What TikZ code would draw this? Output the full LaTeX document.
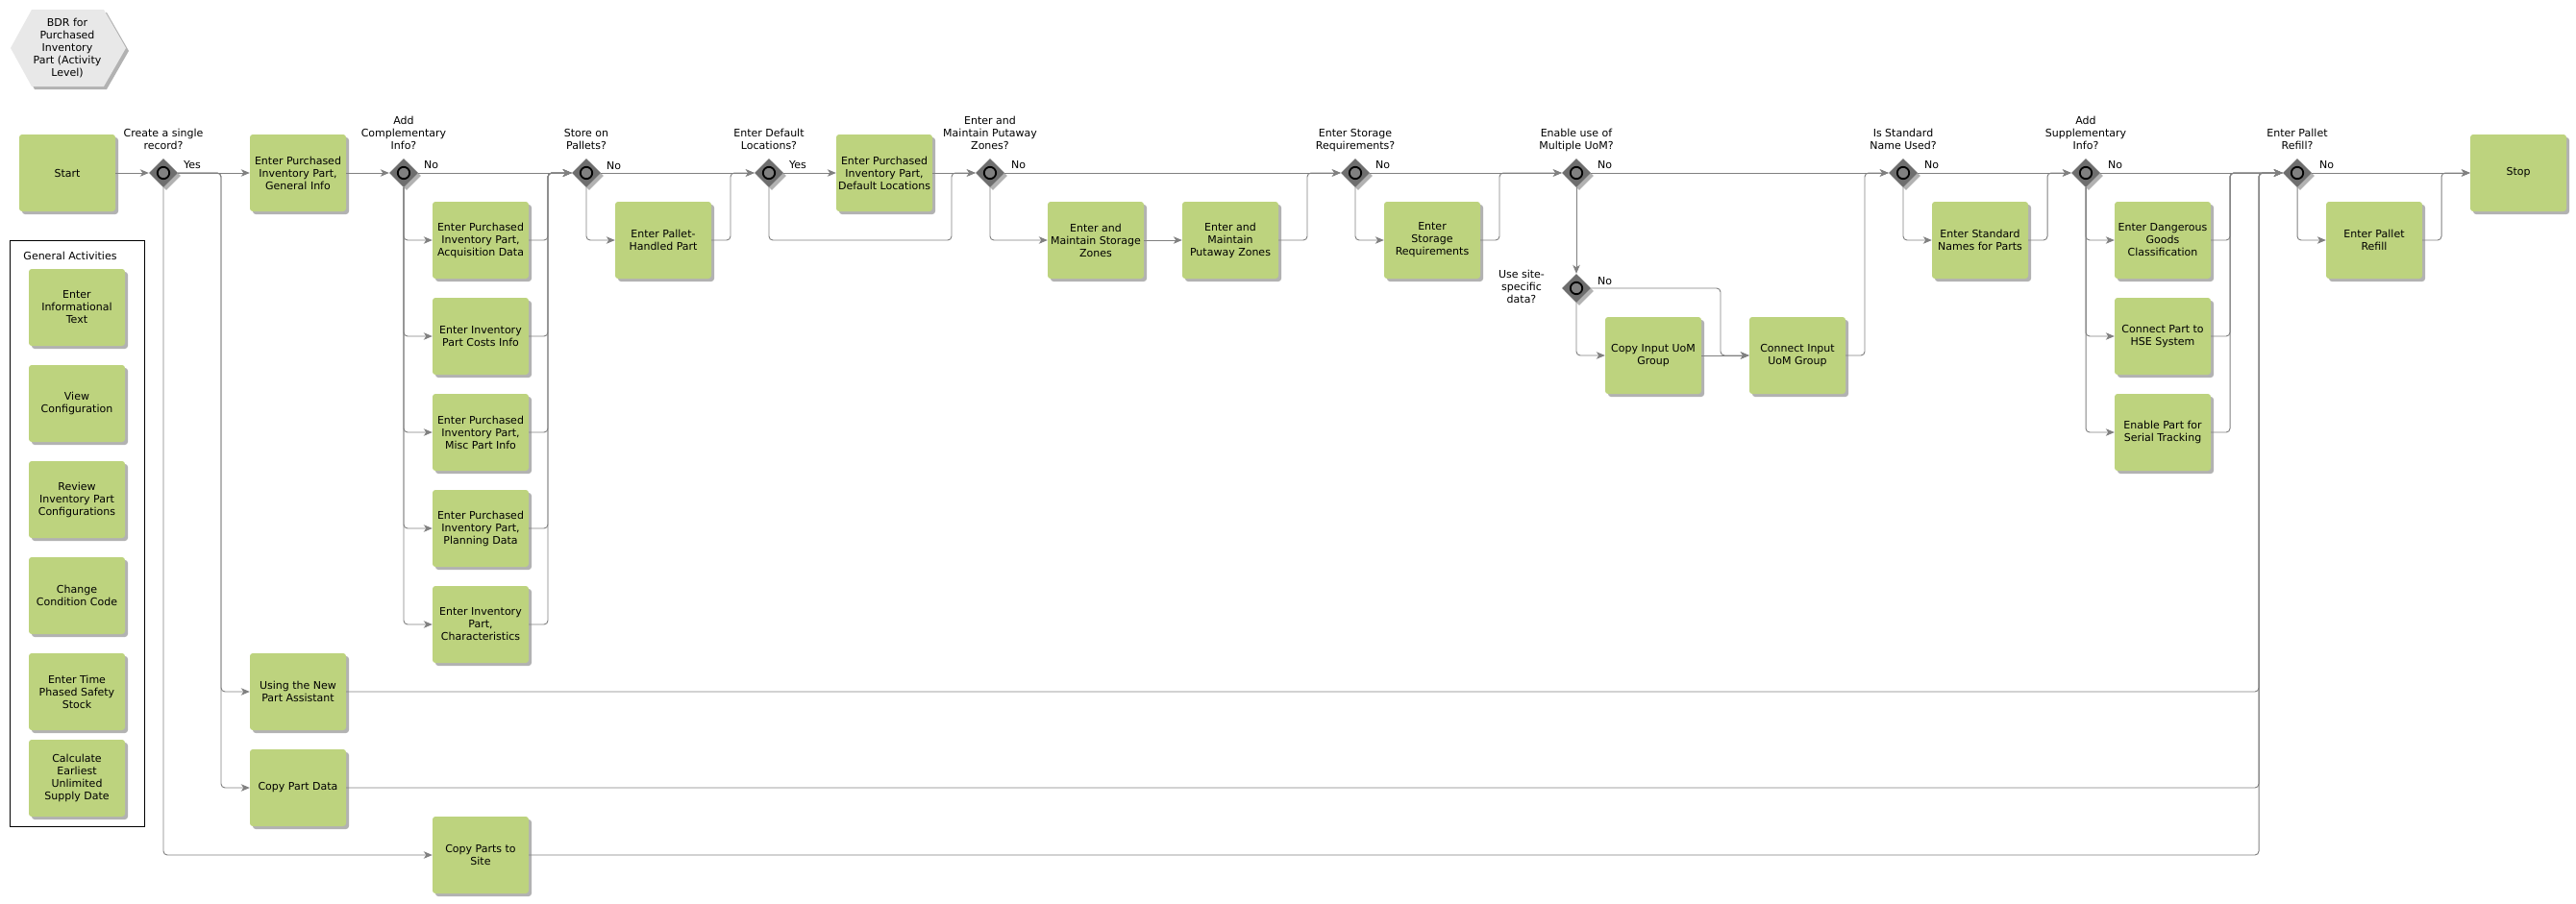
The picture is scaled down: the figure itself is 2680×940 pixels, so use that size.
\documentclass[tikz,border=0pt]{standalone}
\usepackage{fontspec}
\setmainfont{DejaVu Sans}
\usetikzlibrary{shapes.geometric,shadows,arrows.meta}
\definecolor{boxgreen}{HTML}{BDD37E}
\definecolor{flowgray}{HTML}{808080}
\definecolor{gwgray}{HTML}{6E6E6E}
\definecolor{hexgray}{HTML}{E8E8E8}
\newcommand{\dgfont}{\fontsize{11}{13}\selectfont}
\tikzset{
  softshadow/.style={drop shadow={shadow xshift=3pt, shadow yshift=-3pt, opacity=0.3, fill=black}},
  act/.style={rectangle, rounded corners=3pt, fill=boxgreen, minimum width=100pt, minimum height=80pt, inner sep=0pt, align=center, font=\dgfont, softshadow},
  gw/.style={diamond, fill=gwgray, minimum width=30pt, minimum height=30pt, inner sep=0pt, softshadow},
  gwring/.style={draw=black, fill=flowgray, line width=1.8pt},
  flow/.style={draw=flowgray, line width=0.95pt, rounded corners=4pt, -{Stealth[length=9pt,width=7.5pt,inset=2.5pt]}},
  qlabel/.style={align=center, anchor=south, inner sep=0pt, font=\dgfont, execute at end node=\strut},
  blabel/.style={anchor=base west, inner sep=0pt, font=\dgfont},
  txt/.style={align=center, inner sep=0pt, font=\dgfont},
}
\begin{document}
\begin{tikzpicture}[x=1pt,y=-1pt]
\useasboundingbox (0,0) rectangle (2680,940);
% title hexagon
\path[fill=hexgray, softshadow] (11,50) -- (33,10) -- (108,10) -- (131,50) -- (108,90) -- (33,90) -- cycle;
\node[txt] (title) at (70,50) {BDR for\\Purchased\\Inventory\\Part (Activity\\Level)};
% general activities
\node[draw=black, line width=1pt, minimum width=140pt, minimum height=610pt, inner sep=0pt] (ga) at (80,555) {};
\node[txt] (gatitle) at (73,266) {General Activities};
\node[act] (g1) at (80,320) {Enter\\Informational\\Text};
\node[act] (g2) at (80,420) {View\\Configuration};
\node[act] (g3) at (80,520) {Review\\Inventory Part\\Configurations};
\node[act] (g4) at (80,620) {Change\\Condition Code};
\node[act] (g5) at (80,720) {Enter Time\\Phased Safety\\Stock};
\node[act] (g6) at (80,810) {Calculate\\Earliest\\Unlimited\\Supply Date};
% main nodes
\node[act] (start) at (70,180) {Start};
\node[gw] (d1) at (170,180) {};
\node[act] (gen) at (310,180) {Enter Purchased\\Inventory Part,\\General Info};
\node[gw] (d2) at (420,180) {};
\node[act] (acq) at (500,250) {Enter Purchased\\Inventory Part,\\Acquisition Data};
\node[act] (cost) at (500,350) {Enter Inventory\\Part Costs Info};
\node[act] (misc) at (500,450) {Enter Purchased\\Inventory Part,\\Misc Part Info};
\node[act] (plan) at (500,550) {Enter Purchased\\Inventory Part,\\Planning Data};
\node[act] (char) at (500,650) {Enter Inventory\\Part,\\Characteristics};
\node[act] (newpart) at (310,720) {Using the New\\Part Assistant};
\node[act] (copydata) at (310,820) {Copy Part Data};
\node[act] (copysite) at (500,890) {Copy Parts to\\Site};
\node[gw] (d3) at (610,180) {};
\node[act] (pallet) at (690,250) {Enter Pallet-\\Handled Part};
\node[gw] (d4) at (800,180) {};
\node[act] (defloc) at (920,180) {Enter Purchased\\Inventory Part,\\Default Locations};
\node[gw] (d5) at (1030,180) {};
\node[act] (szones) at (1140,250) {Enter and\\Maintain Storage\\Zones};
\node[act] (pzones) at (1280,250) {Enter and\\Maintain\\Putaway Zones};
\node[gw] (d6) at (1410,180) {};
\node[act] (sreq) at (1490,250) {Enter\\Storage\\Requirements};
\node[gw] (d7) at (1640,180) {};
\node[gw] (d8) at (1640,300) {};
\node[act] (copyuom) at (1720,370) {Copy Input UoM\\Group};
\node[act] (connuom) at (1870,370) {Connect Input\\UoM Group};
\node[gw] (d9) at (1980,180) {};
\node[act] (stdnames) at (2060,250) {Enter Standard\\Names for Parts};
\node[gw] (d10) at (2170,180) {};
\node[act] (dg) at (2250,250) {Enter Dangerous\\Goods\\Classification};
\node[act] (hse) at (2250,350) {Connect Part to\\HSE System};
\node[act] (serial) at (2250,450) {Enable Part for\\Serial Tracking};
\node[gw] (d11) at (2390,180) {};
\node[act] (refill) at (2470,250) {Enter Pallet\\Refill};
\node[act] (stop) at (2620,180) {Stop};
% junction coordinates
\coordinate (ys) at (230,180);
\coordinate (m2) at (570,180);
\coordinate (m3) at (760,180);
\coordinate (m4low) at (990,250);
\coordinate (m4) at (990,180);
\coordinate (m5) at (1360,180);
\coordinate (m6) at (1560,180);
\coordinate (m8) at (1790,370);
\coordinate (m7) at (1940,180);
\coordinate (m9) at (2130,180);
\coordinate (m10) at (2320,180);
\coordinate (mb) at (2350,180);
\coordinate (m11) at (2540,180);
% connectors
\draw[flow] (start.east) -- (d1.west);
\draw[flow] (d1.east) -- (gen.west);
\draw[flow] (d1.east) -- (ys) |- (newpart.west);
\draw[flow] (d1.east) -- (ys) |- (copydata.west);
\draw[flow] (d1.south) |- (copysite.west);
\draw[flow] (gen.east) -- (d2.west);
\draw[flow] (d2.east) -- (d3.west);
\foreach \b in {acq,cost,misc,plan,char}{
  \draw[flow] (d2.south) |- (\b.west);
  \draw[flow] (\b.east) -| (m2) -- (d3.west);
}
\draw[flow] (d3.east) -- (d4.west);
\draw[flow] (d3.south) |- (pallet.west);
\draw[flow] (pallet.east) -| (m3) -- (d4.west);
\draw[flow] (d4.east) -- (defloc.west);
\draw[flow] (defloc.east) -- (d5.west);
\draw[flow] (d4.south) |- (m4low) -- (m4) -- (d5.west);
\draw[flow] (d5.east) -- (d6.west);
\draw[flow] (d5.south) |- (szones.west);
\draw[flow] (szones.east) -- (pzones.west);
\draw[flow] (pzones.east) -| (m5) -- (d6.west);
\draw[flow] (d6.east) -- (d7.west);
\draw[flow] (d6.south) |- (sreq.west);
\draw[flow] (sreq.east) -| (m6) -- (d7.west);
\draw[flow] (d7.east) -- (d9.west);
\draw[flow] (d7.south) -- (d8.north);
\draw[flow] (d8.east) -| (m8) -- (connuom.west);
\draw[flow] (d8.south) |- (copyuom.west);
\draw[flow] (copyuom.east) -- (connuom.west);
\draw[flow] (connuom.east) -| (m7) -- (d9.west);
\draw[flow] (d9.east) -- (d10.west);
\draw[flow] (d9.south) |- (stdnames.west);
\draw[flow] (stdnames.east) -| (m9) -- (d10.west);
\draw[flow] (d10.east) -- (d11.west);
\foreach \b in {dg,hse,serial}{
  \draw[flow] (d10.south) |- (\b.west);
  \draw[flow] (\b.east) -| (m10) -- (d11.west);
}
\foreach \b in {newpart,copydata,copysite}{
  \draw[flow] (\b.east) -| (mb) -- (d11.west);
}
\draw[flow] (d11.east) -- (stop.west);
\draw[flow] (d11.south) |- (refill.west);
\draw[flow] (refill.east) -| (m11) -- (stop.west);
% gateway rings
\foreach \d in {d1,d2,d3,d4,d5,d6,d7,d8,d9,d10,d11}{
  \draw[gwring] (\d.center) circle[radius=6.2pt];
}
% decision labels
\node[qlabel] (q1) at (170,160) {Create a single\\record?};
\node[qlabel] (q2) at (420,160) {Add\\Complementary\\Info?};
\node[qlabel] (q3) at (610,160) {Store on\\Pallets?};
\node[qlabel] (q4) at (800,160) {Enter Default\\Locations?};
\node[qlabel] (q5) at (1030,160) {Enter and\\Maintain Putaway\\Zones?};
\node[qlabel] (q6) at (1410,160) {Enter Storage\\Requirements?};
\node[qlabel] (q7) at (1640,160) {Enable use of\\Multiple UoM?};
\node[qlabel] (q9) at (1980,160) {Is Standard\\Name Used?};
\node[qlabel] (q10) at (2170,160) {Add\\Supplementary\\Info?};
\node[qlabel] (q11) at (2390,160) {Enter Pallet\\Refill?};
\node[txt] (q8) at (1583,298) {Use site-\\specific\\data?};
% branch labels
\node[blabel] (b1) at (191,175) {Yes};
\node[blabel] (b2) at (441,175) {No};
\node[blabel] (b3) at (631,176) {No};
\node[blabel] (b4) at (821,175) {Yes};
\node[blabel] (b5) at (1052,175) {No};
\node[blabel] (b6) at (1431,175) {No};
\node[blabel] (b7) at (1662,175) {No};
\node[blabel] (b8) at (1662,296) {No};
\node[blabel] (b9) at (2002,175) {No};
\node[blabel] (b10) at (2193,175) {No};
\node[blabel] (b11) at (2413,175) {No};
\end{tikzpicture}
\end{document}
